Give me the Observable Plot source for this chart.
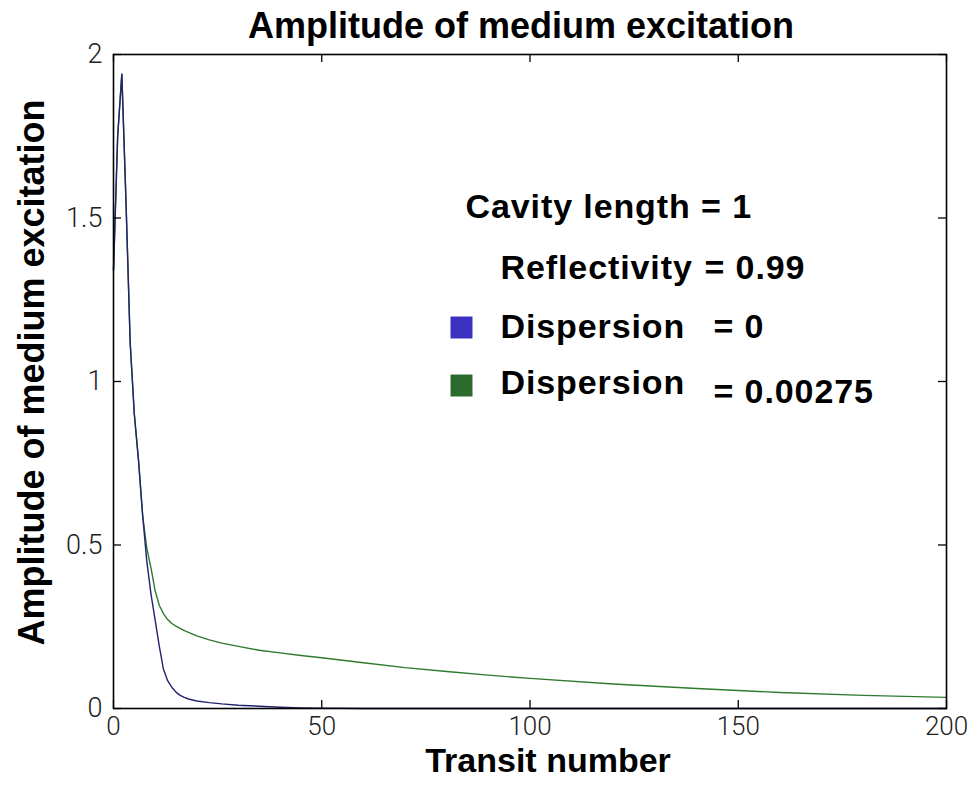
<!DOCTYPE html>
<html>
<head>
<meta charset="utf-8">
<script src="https://cdn.jsdelivr.net/npm/d3@7"></script>
<script src="https://cdn.jsdelivr.net/npm/@observablehq/plot@0.6"></script>
<style>
  html, body { margin: 0; padding: 0; background: #fff; }
  #chart { width: 976px; height: 787px; }
</style>
</head>
<body>
<div id="chart"></div>
<script>
// ---- data ----
const transit = [0,1,2,3,4,5,6,7,8,9,10,11,12,13,14,15,16,17,18,20,23,26,30,35,40,45,50,60,70,80,90,100,120,140,160,180,200];
const dispersion0 = [1.34,1.75,1.94,1.55,1.12,0.90,0.76,0.59,0.45,0.35,0.27,0.19,0.12,0.085,0.065,0.05,0.04,0.034,0.029,0.023,0.018,0.014,0.010,0.007,0.004,0.002,0.001,0,0,0,0,0,0,0,0,0,0];
const dispersion00275 = [1.34,1.75,1.94,1.55,1.12,0.90,0.76,0.59,0.49,0.43,0.36,0.315,0.29,0.272,0.26,0.252,0.245,0.238,0.233,0.222,0.21,0.20,0.19,0.178,0.17,0.162,0.155,0.14,0.125,0.113,0.102,0.092,0.075,0.061,0.049,0.04,0.034];
const xTicks = [0, 50, 100, 150, 200];
const yTicks = [0, 0.5, 1, 1.5, 2];
const yTickLabels = ["0", "0.5", "1", "1.5", "2"];
const titleText = "Amplitude of medium excitation";
const xLabel = "Transit number";
const yLabel = "Amplitude of medium excitation";
const infoLines = ["Cavity length = 1", "Reflectivity", "= 0.99"];
const seriesNames = ["Dispersion", "Dispersion"];
const seriesValues = ["= 0", "= 0.00275"];

const blueLine = "#22226e", blueSwatch = "#3b30c0";
const greenLine = "#2e7a2e", greenSwatch = "#2c6a2c";

const rows0 = transit.map((t, i) => ({t, v: dispersion0[i]}));
const rows1 = transit.map((t, i) => ({t, v: dispersion00275[i]}));

const W = 976, H = 787;
const mL = 113, mR = 30, mT = 54, mB = 79;
const pw = W - mL - mR, ph = H - mT - mB;
const tickLen = 8;
const bold = "'Liberation Sans', Arial, Helvetica, sans-serif";
const light = "Roboto, 'Liberation Sans', sans-serif";
const legendFont = {frameAnchor: "top-left", textAnchor: "start", lineAnchor: "bottom", fontSize: 34, fontWeight: "bold", fontFamily: bold, fill: "#000"};

const plot = Plot.plot({
  width: W, height: H,
  marginLeft: mL, marginRight: mR, marginTop: mT, marginBottom: mB,
  style: {background: "#fff", overflow: "visible"},
  x: {domain: [0, 200]},
  y: {domain: [0, 2]},
  marks: [
    Plot.line(rows1, {x: "t", y: "v", stroke: greenLine, strokeWidth: 1.4}),
    Plot.line(rows0, {x: "t", y: "v", stroke: blueLine, strokeWidth: 1.4}),
    Plot.frame({stroke: "#000", strokeWidth: 1.6}),
    // inward ticks (MATLAB style) on all four sides
    Plot.ruleX(xTicks, {x: d => d, insetTop: ph - tickLen, stroke: "#000", strokeWidth: 1.3}),
    Plot.ruleX(xTicks, {x: d => d, insetBottom: ph - tickLen, stroke: "#000", strokeWidth: 1.3}),
    Plot.ruleY(yTicks, {y: d => d, insetRight: pw - tickLen, stroke: "#000", strokeWidth: 1.3}),
    Plot.ruleY(yTicks, {y: d => d, insetLeft: pw - tickLen, stroke: "#000", strokeWidth: 1.3}),
    Plot.axisX({ticks: xTicks, tickSize: 0, tickPadding: 8, label: null, fontSize: 26, fontFamily: light, fontWeight: 300, fill: "#222"}),
    Plot.axisY({ticks: yTicks, tickSize: 0, tickPadding: 11, label: null, tickFormat: (d) => yTickLabels[yTicks.indexOf(d)], fontSize: 27, fontFamily: light, fontWeight: 300, fill: "#222"}),
    // title & axis labels
    Plot.text([titleText], {text: d => d, frameAnchor: "top", dx: -9, dy: -17, lineAnchor: "bottom", fontSize: 36, fontWeight: "bold", fontFamily: bold, fill: "#000"}),
    Plot.text([xLabel], {text: d => d, frameAnchor: "bottom", dx: 18, dy: 63, lineAnchor: "bottom", fontSize: 34, fontWeight: "bold", fontFamily: bold, fill: "#000"}),
    Plot.text([yLabel], {text: d => d, frameAnchor: "left", textAnchor: "middle", dx: -70, dy: -9, rotate: -90, lineAnchor: "bottom", fontSize: 36, fontWeight: "bold", fontFamily: bold, fill: "#000"}),
    // annotation block
    Plot.text([infoLines[0]], {...legendFont, text: d => d, dx: 352, dy: 163}),
    Plot.text([infoLines[1]], {...legendFont, text: d => d, dx: 387, dy: 224}),
    Plot.text([infoLines[2]], {...legendFont, text: d => d, dx: 591, dy: 224}),
    Plot.text([seriesNames[0]], {...legendFont, text: d => d, dx: 387, dy: 283}),
    Plot.text([seriesValues[0]], {...legendFont, text: d => d, dx: 600, dy: 283}),
    Plot.text([seriesNames[1]], {...legendFont, text: d => d, dx: 387, dy: 339}),
    Plot.text([seriesValues[1]], {...legendFont, text: d => d, dx: 600, dy: 348}),
    Plot.dot([seriesNames[0]], {frameAnchor: "top-left", dx: 348, dy: 273, symbol: "square", r: 12.4, fill: blueSwatch, stroke: "none"}),
    Plot.dot([seriesNames[1]], {frameAnchor: "top-left", dx: 348, dy: 331, symbol: "square", r: 12.4, fill: greenSwatch, stroke: "none"})
  ]
});
// slightly wider lettering for the annotation block, as in the reference
const legendStrings = new Set([...infoLines, ...seriesNames, ...seriesValues]);
d3.select(plot).selectAll("text")
  .filter(function() { return legendStrings.has(this.textContent); })
  .style("letter-spacing", "0.9px");
document.getElementById("chart").appendChild(plot);
</script>
</body>
</html>
